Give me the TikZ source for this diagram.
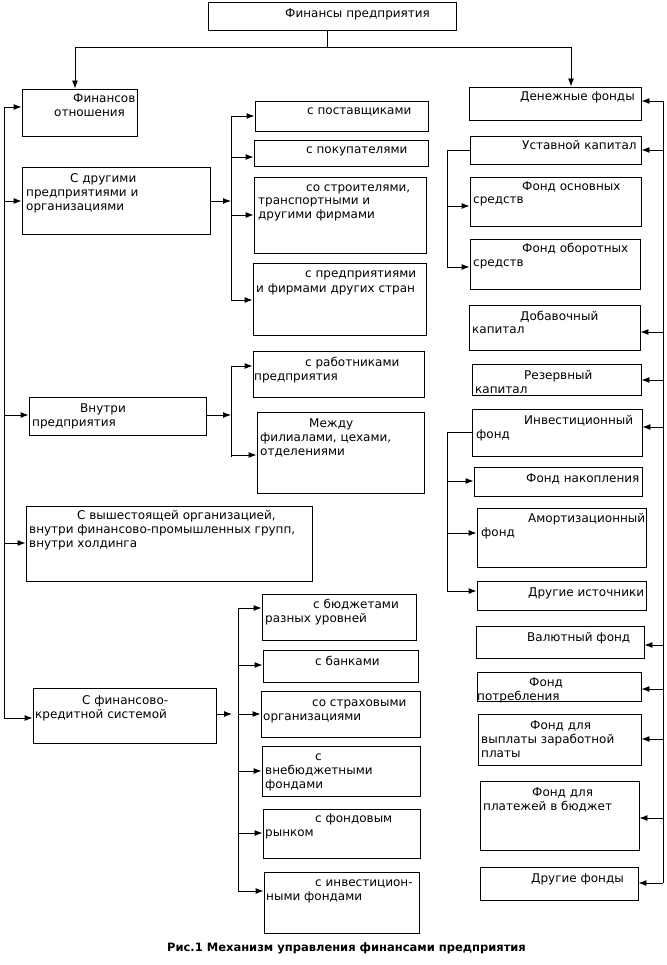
\documentclass[tikz,border=0pt]{standalone}
\usepackage{fontspec}
\setmainfont{DejaVu Sans}
\usetikzlibrary{arrows.meta,fit}
\begin{document}
\begin{tikzpicture}[x=1pt,y=-1pt,
  bx/.style={draw,line width=0.9pt,inner sep=0pt},
  tx/.style={anchor=base west,inner sep=0pt,font=\fontsize{12}{14}\selectfont},
  captxt/.style={anchor=base,inner sep=0pt,font=\fontsize{11.5}{14}\selectfont\bfseries},
  ln/.style={line width=0.9pt},
  arr/.style={line width=0.9pt,-{Latex[length=8pt,width=6pt]}}]
\useasboundingbox[fill=white] (0,0) rectangle (666,965);

% ---------- boxes ----------
\node[bx,fit={(208,2) (456,30)}] (top) {};
\node[bx,fit={(22,89) (137,136)}] (L1) {};
\node[bx,fit={(22,167) (210,234)}] (L2) {};
\node[bx,fit={(29,397) (206,435)}] (L3) {};
\node[bx,fit={(26,506) (312,581)}] (L4) {};
\node[bx,fit={(33,688) (216,743)}] (L5) {};

\node[bx,fit={(255,101) (428,131)}] (M1) {};
\node[bx,fit={(254,140) (428,166)}] (M2) {};
\node[bx,fit={(254,177) (426,253)}] (M3) {};
\node[bx,fit={(253,263) (426,335)}] (M4) {};
\node[bx,fit={(253,351) (424,397)}] (M5) {};
\node[bx,fit={(257,412) (424,493)}] (M6) {};
\node[bx,fit={(262,594) (416,640)}] (M7) {};
\node[bx,fit={(263,650) (418,682)}] (M8) {};
\node[bx,fit={(261,691) (420,737)}] (M9) {};
\node[bx,fit={(262,746) (420,796)}] (M10) {};
\node[bx,fit={(263,809) (420,858)}] (M11) {};
\node[bx,fit={(264,872) (419,933)}] (M12) {};

\node[bx,fit={(469,87) (641,120)}] (R1) {};
\node[bx,fit={(470,136) (641,164)}] (R2) {};
\node[bx,fit={(470,177) (641,226)}] (R3) {};
\node[bx,fit={(470,239) (640,289)}] (R4) {};
\node[bx,fit={(469,305) (640,350)}] (R5) {};
\node[bx,fit={(472,364) (641,395)}] (R6) {};
\node[bx,fit={(472,409) (642,456)}] (R7) {};
\node[bx,fit={(474,467) (642,496)}] (R8) {};
\node[bx,fit={(477,508) (646,567)}] (R9) {};
\node[bx,fit={(477,581) (646,610)}] (R10) {};
\node[bx,fit={(476,626) (644,658)}] (R11) {};
\node[bx,fit={(477,672) (641,701)}] (R12) {};
\node[bx,fit={(478,714) (641,765)}] (R13) {};
\node[bx,fit={(480,781) (639,850)}] (R14) {};
\node[bx,fit={(480,867) (638,900)}] (R15) {};

% ---------- texts ----------
\node[tx] (ttop) at (285,18) {Финансы предприятия};
\node[tx] (tL1a) at (73,103) {Финансов};
\node[tx] (tL1b) at (54,117) {отношения};
\node[tx] (tL2a) at (70,183) {С другими};
\node[tx] (tL2b) at (26,197) {предприятиями и};
\node[tx] (tL2c) at (26,211) {организациями};
\node[tx] (tL3a) at (80,412) {Внутри};
\node[tx] (tL3b) at (32,426) {предприятия};
\node[tx] (tL4a) at (77,519) {С вышестоящей организацией,};
\node[tx] (tL4b) at (29,533) {внутри финансово-промышленных групп,};
\node[tx] (tL4c) at (29,547) {внутри холдинга};
\node[tx] (tL5a) at (82,704) {С финансово-};
\node[tx] (tL5b) at (35,718) {кредитной системой};

\node[tx] (tM1) at (307,115) {с поставщиками};
\node[tx] (tM2) at (306,154) {с покупателями};
\node[tx] (tM3a) at (306,192) {со строителями,};
\node[tx] (tM3b) at (258,205) {транспортными и};
\node[tx] (tM3c) at (258,219) {другими фирмами};
\node[tx] (tM4a) at (305,278) {с предприятиями};
\node[tx] (tM4b) at (256,292) {и фирмами других стран};
\node[tx] (tM5a) at (305,366) {с работниками};
\node[tx] (tM5b) at (254,380) {предприятия};
\node[tx] (tM6a) at (309,427) {Между};
\node[tx] (tM6b) at (260,441) {филиалами, цехами,};
\node[tx] (tM6c) at (260,455) {отделениями};
\node[tx] (tM7a) at (313,608) {с бюджетами};
\node[tx] (tM7b) at (265,622) {разных уровней};
\node[tx] (tM8) at (315,665) {с банками};
\node[tx] (tM9a) at (312,706) {со страховыми};
\node[tx] (tM9b) at (263,720) {организациями};
\node[tx] (tM10a) at (315,760) {с};
\node[tx] (tM10b) at (265,774) {внебюджетными};
\node[tx] (tM10c) at (265,788) {фондами};
\node[tx] (tM11a) at (315,822) {с фондовым};
\node[tx] (tM11b) at (265,836) {рынком};
\node[tx] (tM12a) at (315,886) {с инвестицион-};
\node[tx] (tM12b) at (266,900) {ными фондами};

\node[tx] (tR1) at (520,101) {Денежные фонды};
\node[tx] (tR2) at (522,150) {Уставной капитал};
\node[tx] (tR3a) at (522,191) {Фонд основных};
\node[tx] (tR3b) at (473,204) {средств};
\node[tx] (tR4a) at (522,253) {Фонд оборотных};
\node[tx] (tR4b) at (473,267) {средств};
\node[tx] (tR5a) at (520,320) {Добавочный};
\node[tx] (tR5b) at (472,333) {капитал};
\node[tx] (tR6a) at (524,379) {Резервный};
\node[tx] (tR6b) at (475,393) {капитал};
\node[tx] (tR7a) at (524,424) {Инвестиционный};
\node[tx] (tR7b) at (476,438) {фонд};
\node[tx] (tR8) at (526,482) {Фонд накопления};
\node[tx] (tR9a) at (528,522) {Амортизационный};
\node[tx] (tR9b) at (481,536) {фонд};
\node[tx] (tR10) at (528,596) {Другие источники};
\node[tx] (tR11) at (527,641) {Валютный фонд};
\node[tx] (tR12a) at (529,686) {Фонд};
\node[tx] (tR12b) at (477,700) {потребления};
\node[tx] (tR13a) at (530,729) {Фонд для};
\node[tx] (tR13b) at (481,743) {выплаты заработной};
\node[tx] (tR13c) at (481,757) {платы};
\node[tx] (tR14a) at (532,796) {Фонд для};
\node[tx] (tR14b) at (483,810) {платежей в бюджет};
\node[tx] (tR15) at (531,882) {Другие фонды};

\node[captxt] (caption) at (346.5,951) {Рис.1 Механизм управления финансами предприятия};

% ---------- top connectors ----------
\coordinate (tj) at (327,47);
\coordinate (hl) at (75,47);
\coordinate (hr) at (571,47);
\draw[ln] (tj |- top.south) -- (tj);
\draw[ln] (hl) -- (hr);
\draw[arr] (hl) -- (hl |- L1.north);
\draw[arr] (hr) -- (hr |- R1.north);

% ---------- left trunk ----------
\coordinate (lt1) at (4,107);
\coordinate (lt2) at (4,201);
\coordinate (lt3) at (4,415);
\coordinate (lt4) at (4,543);
\coordinate (lt5) at (4,718);
\draw[ln] (lt1) -- (lt5);
\draw[arr] (lt1) -- (lt1 -| L1.west);
\draw[arr] (lt2) -- (lt2 -| L2.west);
\draw[arr] (lt3) -- (lt3 -| L3.west);
\draw[arr] (lt4) -- (lt4 -| L4.west);
\draw[arr] (lt5) -- (lt5 -| L5.west);

% ---------- group 1 ----------
\coordinate (g1a) at (231,116);
\coordinate (g1b) at (231,157);
\coordinate (g1c) at (231,215);
\coordinate (g1d) at (231,300);
\coordinate (g1e) at (231,201);
\draw[ln] (g1a) -- (231,301);
\draw[arr] (g1e -| L2.east) -- (g1e);
\draw[arr] (g1a) -- (g1a -| M1.west);
\draw[arr] (g1b) -- (g1b -| M2.west);
\draw[arr] (g1c) -- (g1c -| M3.west);
\draw[arr] (g1d) -- (g1d -| M4.west);

% ---------- group 2 ----------
\coordinate (g2a) at (231,366);
\coordinate (g2b) at (231,455);
\coordinate (g2e) at (231,415);
\draw[ln] (g2a) -- (231,457);
\draw[arr] (g2e -| L3.east) -- (g2e);
\draw[arr] (g2a) -- (g2a -| M5.west);
\draw[arr] (g2b) -- (g2b -| M6.west);

% ---------- group 3 ----------
\coordinate (g3a) at (238,608);
\coordinate (g3b) at (238,665);
\coordinate (g3c) at (238,714);
\coordinate (g3d) at (238,771);
\coordinate (g3f) at (238,833);
\coordinate (g3g) at (238,891);
\coordinate (g3e) at (232,714);
\draw[ln] (g3a) -- (g3g);
\draw[arr] (g3e -| L5.east) -- (g3e);
\draw[arr] (g3a) -- (g3a -| M7.west);
\draw[arr] (g3b) -- (g3b -| M8.west);
\draw[arr] (g3c) -- (g3c -| M9.west);
\draw[arr] (g3d) -- (g3d -| M10.west);
\draw[arr] (g3f) -- (g3f -| M11.west);
\draw[arr] (g3g) -- (g3g -| M12.west);

% ---------- right trunk ----------
\coordinate (rt1) at (663,101);
\coordinate (rt2) at (663,150);
\coordinate (rt5) at (663,332);
\coordinate (rt6) at (663,380);
\coordinate (rt7) at (663,427);
\coordinate (rt11) at (663,645);
\coordinate (rt12) at (663,689);
\coordinate (rt13) at (663,739);
\coordinate (rt14) at (663,818);
\coordinate (rt15) at (663,883);
\draw[ln] (rt1) -- (rt15);
\draw[arr] (rt1) -- (rt1 -| R1.east);
\draw[arr] (rt2) -- (rt2 -| R2.east);
\draw[arr] (rt5) -- (rt5 -| R5.east);
\draw[arr] (rt6) -- (rt6 -| R6.east);
\draw[arr] (rt7) -- (rt7 -| R7.east);
\draw[arr] (rt11) -- (rt11 -| R11.east);
\draw[arr] (rt12) -- (rt12 -| R12.east);
\draw[arr] (rt13) -- (rt13 -| R13.east);
\draw[arr] (rt14) -- (rt14 -| R14.east);
\draw[arr] (rt15) -- (rt15 -| R15.east);

% ---------- right sub-trunk 1 ----------
\coordinate (s1a) at (447,150);
\coordinate (s1b) at (447,206);
\coordinate (s1c) at (447,267);
\draw[ln] (s1a -| R2.west) -- (s1a) -- (s1c);
\draw[arr] (s1b) -- (s1b -| R3.west);
\draw[arr] (s1c) -- (s1c -| R4.west);

% ---------- right sub-trunk 2 ----------
\coordinate (s2a) at (447,432);
\coordinate (s2b) at (447,481);
\coordinate (s2c) at (447,533);
\coordinate (s2d) at (447,591);
\draw[ln] (s2a -| R7.west) -- (s2a) -- (s2d);
\draw[arr] (s2b) -- (s2b -| R8.west);
\draw[arr] (s2c) -- (s2c -| R9.west);
\draw[arr] (s2d) -- (s2d -| R10.west);
\end{tikzpicture}
\end{document}
